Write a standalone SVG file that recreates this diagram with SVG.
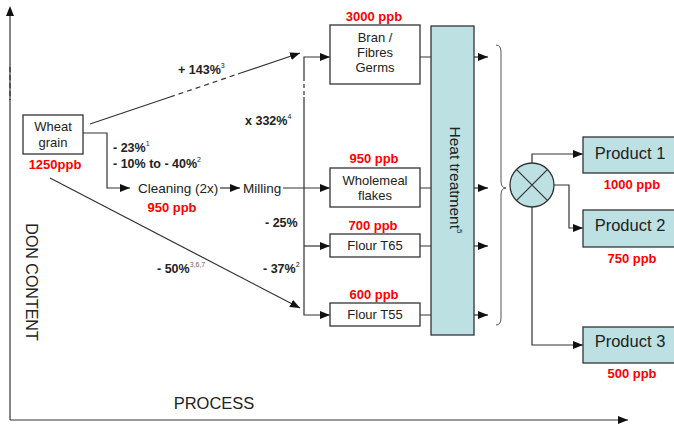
<svg xmlns="http://www.w3.org/2000/svg" width="674" height="427" viewBox="0 0 674 427">
<defs>
<marker id="ah" markerUnits="userSpaceOnUse" markerWidth="10" markerHeight="8" refX="10" refY="4" orient="auto">
<path d="M0,0 L10,4 L0,8 z" fill="#111"/>
</marker>
<style>
text{font-family:"Liberation Sans",Arial,sans-serif;fill:#222}
.box{fill:#fff;stroke:#333;stroke-width:1.3}
.blue{fill:#bde0e3;stroke:#333;stroke-width:1.3}
.ln{fill:none;stroke:#333;stroke-width:1.2}
.arr{fill:none;stroke:#333;stroke-width:1.2;marker-end:url(#ah)}
.red{fill:#f00;font-weight:bold;font-size:13px}
.lbl{font-weight:bold;font-size:12.5px}
.nt{font-size:13px;text-anchor:middle}
.sup{font-size:7px;font-weight:normal}
.pt{font-size:16.5px;text-anchor:middle}
</style>
</defs>
<g id="axes">
<path class="ln" d="M10,420 V67"/>
<path class="ln" d="M10,67 V100" stroke-dasharray="5 3"/>
<path class="ln" d="M10,67 V14"/>
<path d="M10,6 L6,16 L14,16 z" fill="#111"/>
<path class="arr" d="M10,420 H628" stroke="#111"/>
<text x="26" y="282" font-size="16" text-anchor="middle" transform="rotate(90 26 282)">DON CONTENT</text>
<text x="214" y="409" font-size="16.5" text-anchor="middle">PROCESS</text>
</g>
<g id="connectors">
<path class="ln" d="M90,124 L170,97"/>
<path class="ln" d="M170,97 L240,73.3" stroke-dasharray="5 4"/>
<path class="arr" d="M240,73.3 L300,53"/>
<path class="arr" d="M50,178 L300,308"/>
<path class="arr" d="M83,133 H107 V188 H130"/>
<path class="arr" d="M220,188 H240"/>
<path class="arr" d="M283,188 H330"/>
<path class="arr" d="M304,77 V57 H330"/>
<path class="ln" d="M304,77 V97" stroke-dasharray="4 3"/>
<path class="arr" d="M304,97 V315 H330"/>
<path class="arr" d="M304,246 H330"/>
<path class="ln" d="M420,57 H431 M420,188 H431 M420,246 H431 M420,315 H431"/>
<path class="arr" d="M474,57 H488"/>
<path class="arr" d="M474,188 H488"/>
<path class="arr" d="M474,246 H488"/>
<path class="arr" d="M474,315 H488"/>
<path fill="none" stroke="#555" stroke-width="1" d="M496,45 Q501,45 501,52 V181 Q501,188 506,188 Q501,188 501,195 V318 Q501,325 496,325"/>
<path class="arr" d="M532,163 V154 H583"/>
<path class="arr" d="M554,185 H569 V228 H583"/>
<path class="arr" d="M532,207 V345 H583"/>
</g>
<g id="labels">
<text class="lbl" x="178" y="74">+ 143%<tspan class="sup" dy="-6">3</tspan></text>
<text class="lbl" x="113" y="152">- 23%<tspan class="sup" dy="-6">1</tspan></text>
<text class="lbl" x="113" y="168">- 10% to - 40%<tspan class="sup" dy="-6">2</tspan></text>
<text class="lbl" x="245" y="125">x 332%<tspan class="sup" dy="-6">4</tspan></text>
<text class="lbl" x="265" y="227">- 25%</text>
<text class="lbl" x="263" y="273">- 37%<tspan class="sup" dy="-6">2</tspan></text>
<text class="lbl" x="157" y="273">- 50%<tspan class="sup" dy="-6" fill="#666">3,6,7</tspan></text>
</g>
<g id="wheat">
<rect class="box" x="23" y="115" width="60" height="39"/>
<text class="nt" x="53" y="131">Wheat</text>
<text class="nt" x="53" y="147">grain</text>
<text class="red" x="55" y="169" text-anchor="middle" font-size="13.5">1250ppb</text>
</g>
<g id="cleaning">
<text x="138" y="193" font-size="13.5">Cleaning (2x)</text>
<text class="red" x="172" y="212" text-anchor="middle">950 ppb</text>
</g>
<g id="milling">
<text x="243" y="193" font-size="13.5">Milling</text>
</g>
<g id="bran">
<rect class="box" x="330" y="25" width="90" height="59"/>
<text class="nt" x="375" y="42">Bran /</text>
<text class="nt" x="375" y="57">Fibres</text>
<text class="nt" x="375" y="72">Germs</text>
<text class="red" x="374" y="21" text-anchor="middle">3000 ppb</text>
</g>
<g id="wholemeal">
<rect class="box" x="330" y="168" width="90" height="39"/>
<text class="nt" x="375" y="185">Wholemeal</text>
<text class="nt" x="375" y="200">flakes</text>
<text class="red" x="374" y="163" text-anchor="middle">950 ppb</text>
</g>
<g id="t65">
<rect class="box" x="330" y="234" width="90" height="23"/>
<text class="nt" x="375" y="250">Flour T65</text>
<text class="red" x="373" y="230" text-anchor="middle">700 ppb</text>
</g>
<g id="t55">
<rect class="box" x="330" y="303" width="90" height="23"/>
<text class="nt" x="375" y="319">Flour T55</text>
<text class="red" x="374" y="299" text-anchor="middle">600 ppb</text>
</g>
<g id="heat">
<rect class="blue" x="431" y="26" width="43" height="309"/>
<text x="450" y="180" font-size="15.5" text-anchor="middle" transform="rotate(90 450 180)">Heat treatment<tspan font-size="8" dy="-7">5</tspan></text>
</g>
<g id="junction">
<circle class="blue" cx="532" cy="185" r="22"/>
<path stroke="#333" stroke-width="1.2" d="M516.4,169.4 L547.6,200.6 M547.6,169.4 L516.4,200.6"/>
</g>
<g id="product1">
<rect class="blue" x="583" y="137" width="95" height="36"/>
<text class="pt" x="630" y="159">Product 1</text>
<text class="red" x="632" y="189" text-anchor="middle">1000 ppb</text>
</g>
<g id="product2">
<rect class="blue" x="583" y="210" width="95" height="37"/>
<text class="pt" x="630" y="231">Product 2</text>
<text class="red" x="632" y="263" text-anchor="middle">750 ppb</text>
</g>
<g id="product3">
<rect class="blue" x="583" y="327" width="95" height="36"/>
<text class="pt" x="630" y="347">Product 3</text>
<text class="red" x="632" y="378" text-anchor="middle">500 ppb</text>
</g>
</svg>
